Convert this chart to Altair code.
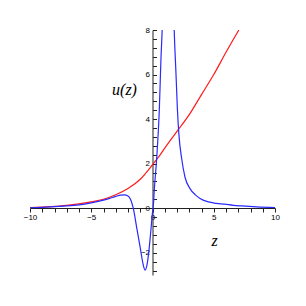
import altair as alt
import pandas as pd

red_x = [-10, -9, -8, -7, -6, -5, -4, -3, -2, -1, 0, 0.5, 1, 2, 3, 4, 5, 6, 7.05]
red_y = [0.03, 0.05, 0.08, 0.13, 0.19, 0.28, 0.4, 0.6, 0.88, 1.3, 1.95, 2.3, 2.7, 3.45, 4.2, 5.1, 6.0, 7.0, 8.0]

blue_x = [-10, -9, -8, -7, -6, -5, -4, -3.5, -3, -2.6, -2.3, -2.0, -1.8, -1.68, -1.57, -1.3, -1.0,
          -0.75, -0.6, -0.45, -0.3, -0.15, 0.0, 0.07, 0.15, 0.34, 0.56, 0.69, 0.8, 0.88,
          1.68, 1.76, 1.92, 2.03, 2.16, 2.38, 2.65, 3.06, 3.5, 3.88, 4.56, 5.2, 5.9, 6.6, 7.3, 8.5, 10]
blue_y = [0.02, 0.04, 0.07, 0.1, 0.15, 0.24, 0.36, 0.44, 0.53, 0.59, 0.6, 0.55, 0.4, 0.22, 0.0, -0.84, -1.78,
          -2.56, -2.78, -2.55, -1.95, -1.1, -0.2, 0.13, 0.85, 2.23, 4.48, 6.7, 8.2, 10,
          10, 8.2, 6.0, 4.48, 3.28, 2.23, 1.4, 0.88, 0.6, 0.44, 0.28, 0.22, 0.18, 0.13, 0.1, 0.06, 0.03]

x_ticks = list(range(-10, 11))
y_ticks = [round(-2.8 + 0.4 * i, 1) for i in range(28)]
y_labels = [-2, 0, 2, 4, 6, 8]

red = pd.DataFrame({"z": red_x, "u": red_y})
blue = pd.DataFrame({"z": blue_x, "u": blue_y})

W = 245
H = 245
xs = alt.Scale(domain=[-10, 10], nice=False, zero=False)
ys = alt.Scale(domain=[-3, 8], nice=False, zero=False)

SERIF = "Liberation Serif, Times New Roman, serif"


def x_axis():
    return alt.Axis(
        orient="bottom", offset=-67, values=x_ticks, grid=False,
        labelExpr="datum.value % 5 == 0 ? datum.label : ''",
        tickSize=4, tickColor="#222222", domainColor="#222222",
        labelFont="Liberation Sans", labelFontSize=8, labelColor="black", labelPadding=1,
        title="z", titleFont=SERIF, titleFontStyle="italic", titleFontWeight="normal",
        titleFontSize=16, titleX=184, titleY=32, titleBaseline="middle", titleAlign="center",
        titleColor="black", labelOverlap=False, labelFlush=False,
    )


y_tick_axis = alt.Axis(
    orient="right", offset=-122.5, values=y_ticks, grid=False, labels=False,
    tickSize=4, tickColor="#222222", domainColor="#222222", title=None,
)

y_label_axis = alt.Axis(
    orient="left", offset=-122.5, values=y_labels, grid=False, ticks=False, domain=False,
    tickSize=0, labelPadding=3, labelFont="Liberation Sans", labelFontSize=8, labelColor="black",
    labelOverlap=False, labelFlush=False,
    title="u(z)", titleFont=SERIF, titleFontStyle="italic", titleFontWeight="normal",
    titleFontSize=16, titleAngle=0, titleX=-28.5, titleY=59, titleBaseline="middle",
    titleAlign="center", titleColor="black",
)

red_line = alt.Chart(red).mark_line(color="#ff1a1a", strokeWidth=1.2, interpolate="monotone", clip=True).encode(
    x=alt.X("z:Q", scale=xs, axis=x_axis()),
    y=alt.Y("u:Q", scale=ys, axis=y_tick_axis),
)

blue_line = alt.Chart(blue).mark_line(color="#2a2aff", strokeWidth=1.2, interpolate="monotone", clip=True).encode(
    x=alt.X("z:Q", scale=xs, axis=x_axis()),
    y=alt.Y("u:Q", scale=ys, axis=y_label_axis),
)

chart = alt.layer(red_line, blue_line).properties(
    width=W, height=H,
    autosize=alt.AutoSizeParams(type="none"),
    padding={"left": 22, "top": 22, "right": 20, "bottom": 20},
).configure(background="white").configure_view(strokeWidth=0, stroke="transparent")

chart.save("out.html", embed_options={"renderer": "svg", "actions": False})
